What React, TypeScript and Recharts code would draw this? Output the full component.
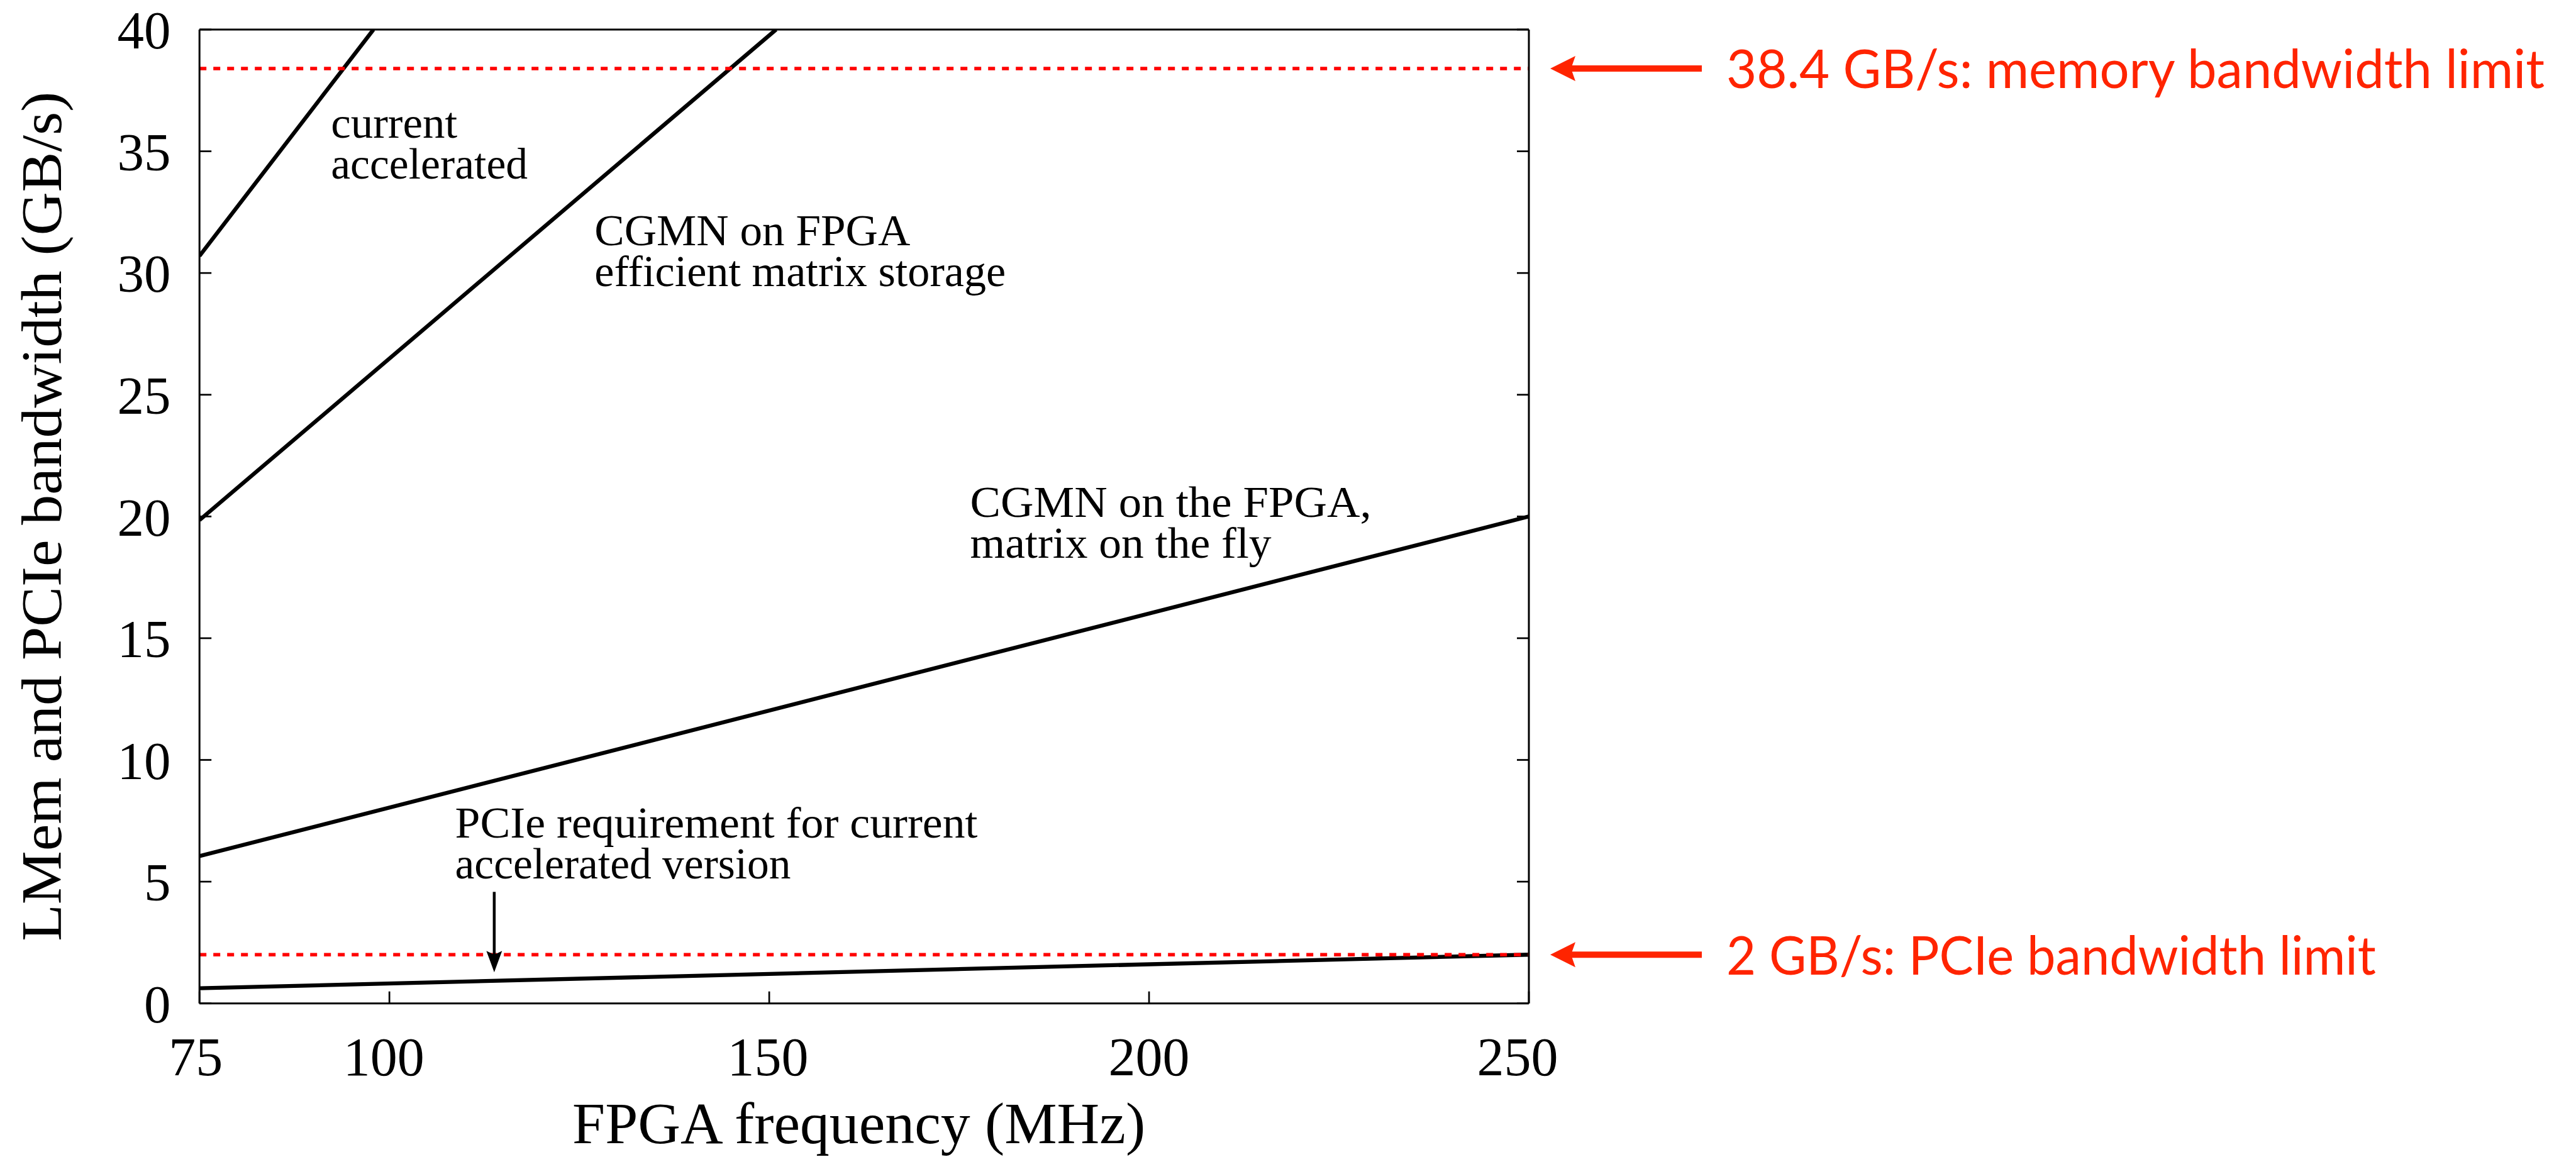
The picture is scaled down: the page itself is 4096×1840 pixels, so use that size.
import React from 'react';
import { LineChart, Line, XAxis, YAxis, ReferenceLine, ReferenceDot } from 'recharts';

// ---------- data ----------
const xTicks = [75, 100, 150, 200, 250];
const yTicks = [0, 5, 10, 15, 20, 25, 30, 35, 40];

const currentAccelerated = [
  { freq: 75, bw: 30.7 },
  { freq: 97.9, bw: 40 },
];
const cgmnEfficientStorage = [
  { freq: 75, bw: 19.85 },
  { freq: 150.9, bw: 40 },
];
const cgmnOnTheFly = [
  { freq: 75, bw: 6.05 },
  { freq: 250, bw: 20 },
];
const pcieRequirement = [
  { freq: 75, bw: 0.62 },
  { freq: 250, bw: 2.0 },
];

const memoryLimit = 38.4;
const pcieLimit = 2;

const memoryLimitText = '38.4 GB/s: memory bandwidth limit';
const pcieLimitText = '2 GB/s: PCIe bandwidth limit';

const annotationLines = [
  ['current', 'accelerated'],
  ['CGMN on FPGA', 'efficient matrix storage'],
  ['CGMN on the FPGA,', 'matrix on the fly'],
  ['PCIe requirement for current', 'accelerated version'],
];
const annotationAnchors = [
  { freq: 92.3, bw: 35.57 },
  { freq: 127.0, bw: 31.13 },
  { freq: 176.45, bw: 19.99 },
  { freq: 108.64, bw: 6.82 },
];
const pcieArrow = [
  { freq: 113.8, bw: 4.58 },
  { freq: 113.8, bw: 1.28 },
];

const xLabel = 'FPGA frequency (MHz)';
const yLabel = 'LMem and PCIe bandwidth (GB/s)';

// ---------- styles ----------
const SERIF = '"Liberation Serif", "Times New Roman", serif';
const SANS = 'Lato, "Open Sans", sans-serif';
const RED_TEXT = '#ff2400';
const RED_LINE = '#ff0000';
const annotationWidths = [
  [201, 313],
  [502, 654],
  [638, 479],
  [831, 534],
];
const LINE_GAP = 65;
const xTickShift: Record<number, number> = { 75: -6, 100: -9, 150: -2, 200: 0, 250: -18 };

const EmptyTick = () => <g />;

const XTick = (props: any) => {
  const { x, y, payload } = props;
  const dx = xTickShift[payload.value] ?? 0;
  return (
    <text
      x={x + dx}
      y={y}
      dy="0.71em"
      textAnchor="middle"
      fontFamily={SERIF}
      fontSize={86}
      fill="#000"
    >
      {payload.value}
    </text>
  );
};

const makeTextBlock = (lines: string[], widths: number[]) => (props: any) => {
  const { cx, cy } = props;
  return (
    <g>
      {lines.map((line, i) => (
        <text
          key={i}
          x={cx}
          y={cy + i * LINE_GAP}
          fontFamily={SERIF}
          fontSize={69}
          fill="#000"
          textLength={widths[i]}
          lengthAdjust="spacingAndGlyphs"
        >
          {line}
        </text>
      ))}
    </g>
  );
};

const makeCallout = (text: string, width: number) => (props: any) => {
  const { cx, cy } = props;
  const tip = cx + 34;
  return (
    <g>
      <rect x={cx + 66} y={cy - 5} width={209} height={10} fill={RED_TEXT} />
      <polygon
        points={`${tip},${cy} ${tip + 40},${cy - 20} ${tip + 33},${cy} ${tip + 40},${cy + 20}`}
        fill={RED_TEXT}
      />
      <text
        x={cx + 314}
        y={cy + 31.5}
        fontFamily={SANS}
        fontSize={85}
        fill={RED_TEXT}
        textLength={width}
        lengthAdjust="spacingAndGlyphs"
      >
        {text}
      </text>
    </g>
  );
};

const ArrowShape = (props: any) => {
  const { x1, y1, x2, y2 } = props;
  const top = Math.min(y1, y2);
  const tipY = Math.max(y1, y2);
  const x = x1;
  return (
    <g>
      <line x1={x} y1={top} x2={x} y2={tipY - 26} stroke="#000" strokeWidth={4.5} />
      <polygon
        points={`${x},${tipY} ${x - 12.5},${tipY - 34} ${x},${tipY - 28} ${x + 12.5},${tipY - 34}`}
        fill="#000"
      />
    </g>
  );
};

const XAxisLabel = (props: any) => {
  const vb = props.viewBox;
  return (
    <text
      x={vb.x + vb.width / 2 - 8.5}
      y={vb.y + 222.3}
      textAnchor="middle"
      fontFamily={SERIF}
      fontSize={94}
      fill="#000"
      textLength={911}
      lengthAdjust="spacingAndGlyphs"
    >
      {xLabel}
    </text>
  );
};

const YAxisLabel = (props: any) => {
  const vb = props.viewBox;
  const x = vb.x + vb.width - 220.2;
  const y = vb.y + vb.height / 2;
  return (
    <text
      x={x}
      y={y}
      transform={`rotate(-90, ${x}, ${y})`}
      textAnchor="middle"
      fontFamily={SERIF}
      fontSize={90}
      fill="#000"
      textLength={1351}
      lengthAdjust="spacingAndGlyphs"
    >
      {yLabel}
    </text>
  );
};

const axisLineStyle = { stroke: '#000', strokeWidth: 3 };
const tickLineStyle = { stroke: '#000', strokeWidth: 2.7 };
const tickTextStyle = { fill: '#000', fontSize: 85, fontFamily: SERIF };
const LINE_W = 6.3;

export default function App() {
  return (
    <div style={{ position: 'absolute', left: 0, top: 0, width: 4096, height: 1840, background: '#fff' }}>
      <LineChart
        width={4096}
        height={1840}
        margin={{ top: 46, right: 1664, bottom: 44.3, left: 117.2 }}
      >
        <XAxis
          dataKey="freq"
          type="number"
          domain={[75, 250]}
          ticks={xTicks}
          interval={0}
          allowDataOverflow
          height={200}
          axisLine={axisLineStyle}
          tickLine={tickLineStyle}
          tickSize={-19}
          tickMargin={72}
          tick={XTick}
          label={XAxisLabel}
        />
        <XAxis
          xAxisId="top"
          orientation="top"
          type="number"
          domain={[75, 250]}
          ticks={xTicks}
          interval={0}
          allowDataOverflow
          height={1}
          axisLine={axisLineStyle}
          tickLine={tickLineStyle}
          tickSize={-19}
          tick={EmptyTick}
        />
        <YAxis
          type="number"
          domain={[0, 40]}
          ticks={yTicks}
          interval={0}
          allowDataOverflow
          width={200}
          axisLine={axisLineStyle}
          tickLine={tickLineStyle}
          tickSize={-19}
          tickMargin={64.7}
          tick={tickTextStyle}
          label={YAxisLabel}
        />
        <YAxis
          yAxisId="right"
          orientation="right"
          type="number"
          domain={[0, 40]}
          ticks={yTicks}
          interval={0}
          allowDataOverflow
          width={1}
          axisLine={axisLineStyle}
          tickLine={tickLineStyle}
          tickSize={-19}
          tick={EmptyTick}
        />

        <Line data={currentAccelerated} dataKey="bw" type="linear" stroke="#000" strokeWidth={LINE_W} dot={false} isAnimationActive={false} />
        <Line data={cgmnEfficientStorage} dataKey="bw" type="linear" stroke="#000" strokeWidth={LINE_W} dot={false} isAnimationActive={false} />
        <Line data={cgmnOnTheFly} dataKey="bw" type="linear" stroke="#000" strokeWidth={LINE_W} dot={false} isAnimationActive={false} />
        <Line data={pcieRequirement} dataKey="bw" type="linear" stroke="#000" strokeWidth={LINE_W} dot={false} isAnimationActive={false} />

        <ReferenceLine y={memoryLimit} stroke={RED_LINE} strokeWidth={5.6} strokeDasharray="11 11" />
        <ReferenceLine y={pcieLimit} stroke={RED_LINE} strokeWidth={5.6} strokeDasharray="11 11" />

        <ReferenceLine
          segment={[
            { x: pcieArrow[0].freq, y: pcieArrow[0].bw },
            { x: pcieArrow[1].freq, y: pcieArrow[1].bw },
          ]}
          shape={ArrowShape}
        />

        {annotationAnchors.map((a, i) => (
          <ReferenceDot
            key={i}
            x={a.freq}
            y={a.bw}
            r={0}
            ifOverflow="visible"
            shape={makeTextBlock(annotationLines[i], annotationWidths[i])}
          />
        ))}

        <ReferenceDot x={250} y={memoryLimit} r={0} ifOverflow="visible" shape={makeCallout(memoryLimitText, 1301)} />
        <ReferenceDot x={250} y={pcieLimit} r={0} ifOverflow="visible" shape={makeCallout(pcieLimitText, 1033)} />
      </LineChart>
    </div>
  );
}
